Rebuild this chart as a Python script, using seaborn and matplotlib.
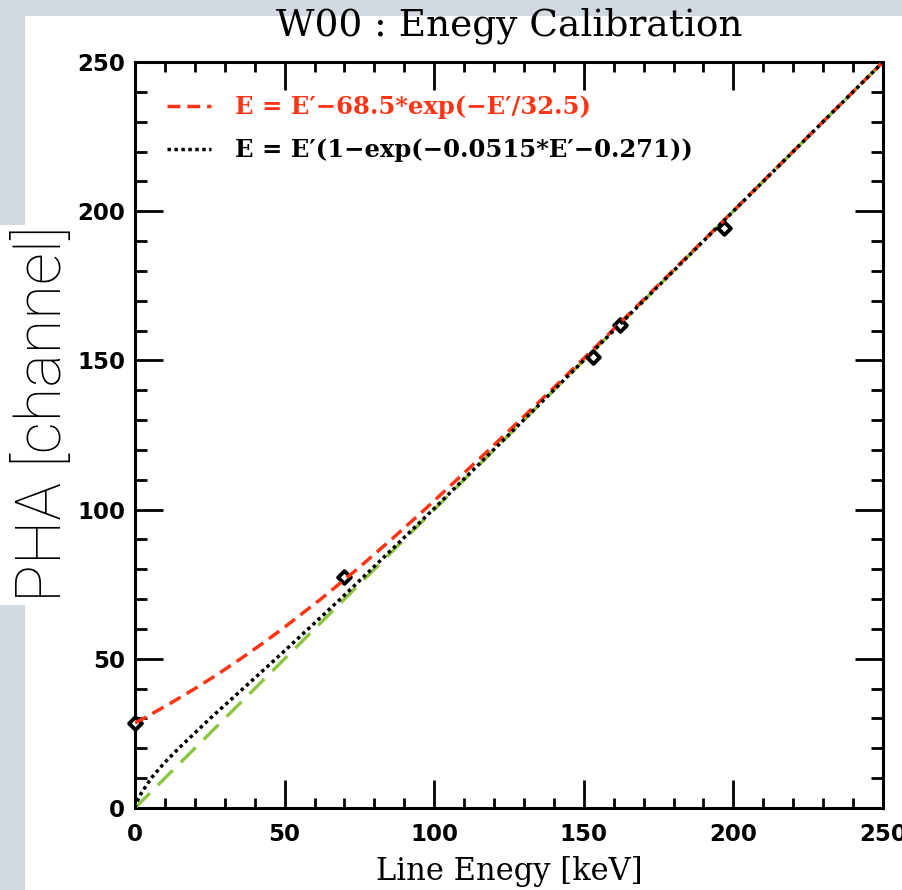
import numpy as np
import pandas as pd
import seaborn as sns
import matplotlib.pyplot as plt
from matplotlib.lines import Line2D
from matplotlib.patches import Rectangle

# ---------- data ----------
# calibration points
energy_points = [0, 70, 153, 162, 197]
pha_points = [28.5, 77.5, 151, 162, 194.5]

# E = E'-68.5*exp(-E'/32.5)
pha_red = [28.5, 30, 35, 40, 45, 50, 55, 60, 70, 80, 90, 100, 120, 140, 160, 200, 250]
energy_red = [0.0, 2.8, 11.7, 20.0, 27.9, 35.3, 42.4, 49.2, 62.1, 74.2, 85.7,
              96.8, 118.3, 139.1, 159.5, 199.9, 250.0]

# E = E'(1-exp(-0.0515*E'-0.271))
pha_black = [0, 2, 5, 10, 15, 20, 30, 40, 50, 60, 70, 80, 100, 120, 150, 250]
energy_black = [0, 0.6, 2.1, 5.4, 9.7, 14.6, 25.1, 36.1, 47.1, 57.9, 68.6,
                79.0, 99.6, 119.8, 150.0, 250.0]

# E = E'
energy_green = [0, 250]
pha_green = [0, 250]

labels = ["E = E\u2032\u221268.5*exp(\u2212E\u2032/32.5)",
          "E = E\u2032(1\u2212exp(\u22120.0515*E\u2032\u22120.271))"]

RED = '#ff3414'
GREEN = '#8cc63f'

sns.set_style('ticks')

fig = plt.figure(figsize=(9.03, 8.90), dpi=100)
fig.patch.set_facecolor('#d3d9e1')
# white panel and the patch behind the y label
fig.patches.append(Rectangle((25 / 903, 0), 1, 1 - 16 / 890, transform=fig.transFigure,
                             facecolor='white', edgecolor='none', zorder=-2))
fig.patches.append(Rectangle((0, 1 - 605 / 890), 26 / 903, (605 - 225) / 890,
                             transform=fig.transFigure, facecolor='white',
                             edgecolor='none', zorder=-2))

ax = fig.add_axes([135 / 903, 1 - 808 / 890, 748 / 903, 746 / 890])
ax.set_facecolor('white')

# ---------- curves ----------
sns.lineplot(x=energy_green, y=pha_green, ax=ax, color=GREEN, lw=2.4,
             linestyle=(0, (6.3, 3.4)), estimator=None, sort=False, zorder=3)
sns.scatterplot(x=energy_points, y=pha_points, ax=ax, marker='D', s=42,
                facecolor='white', edgecolor='black', linewidth=2.8, zorder=4,
                clip_on=False)
sns.lineplot(x=energy_red, y=pha_red, ax=ax, color=RED, lw=2.5,
             linestyle=(0, (3.7, 2.0)), estimator=None, sort=False, zorder=5)
sns.lineplot(x=energy_black, y=pha_black, ax=ax, color='black', lw=2.5,
             linestyle=(0, (1, 1)), estimator=None, sort=False, zorder=6)

# ---------- axes ----------
ax.set_xlim(0, 250)
ax.set_ylim(0, 250)
ax.set_xticks(np.arange(0, 251, 50))
ax.set_yticks(np.arange(0, 251, 50))
ax.set_xticks(np.arange(0, 251, 10), minor=True)
ax.set_yticks(np.arange(0, 251, 10), minor=True)

for s in ax.spines.values():
    s.set_linewidth(2.2)
    s.set_color('black')

ax.tick_params(which='both', direction='in', top=True, right=True, width=2.0,
               color='black', labelcolor='black')
ax.tick_params(which='major', length=20)
ax.tick_params(axis='x', which='minor', length=7)
ax.tick_params(axis='y', which='minor', length=8.5)
ax.tick_params(axis='x', which='major', pad=11)
ax.tick_params(axis='y', which='major', pad=7)
for lab in ax.get_xticklabels() + ax.get_yticklabels():
    lab.set_fontfamily('DejaVu Sans')
    lab.set_fontweight('bold')
    lab.set_fontsize(16.5)

ax.set_title('W00 : Enegy Calibration', family='DejaVu Serif', fontsize=27,
             pad=19, color='black')
ax.set_xlabel('Line Enegy [keV]', family='DejaVu Serif', fontsize=22,
              labelpad=7, color='black')
ax.set_ylabel('PHA [channel]', family='Roboto', fontweight='light',
              fontsize=45.5, color='black')
ax.yaxis.set_label_coords(-0.081, 0.528)

# ---------- legend ----------
handles = [Line2D([], [], color=RED, lw=2.5, linestyle=(0, (3.7, 2.0))),
           Line2D([], [], color='black', lw=2.5, linestyle=(0, (1, 1)))]
leg = ax.legend(handles, labels, loc='upper left', bbox_to_anchor=(0.027, 0.972),
                frameon=False, borderpad=0, handlelength=1.8, handletextpad=1.0,
                labelspacing=0.8, labelcolor=[RED, 'black'],
                prop={'family': 'DejaVu Serif', 'weight': 'bold', 'size': 17.5})

fig.savefig('out.png', dpi=100, facecolor=fig.get_facecolor())
